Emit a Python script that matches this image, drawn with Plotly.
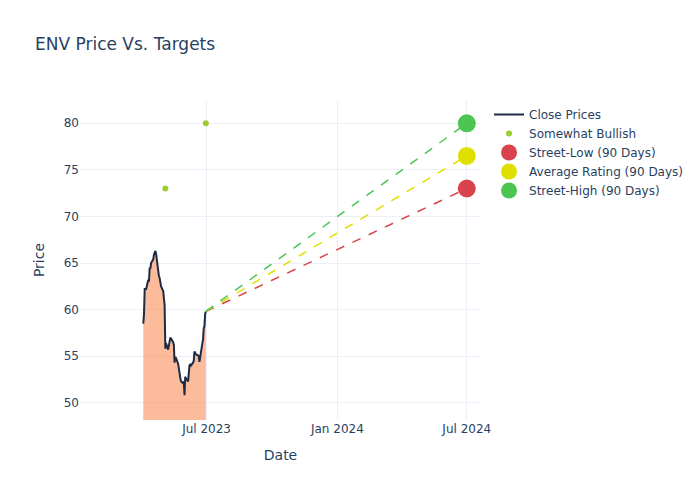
import pandas as pd
import plotly.graph_objects as go

# Close prices (business days 2023-04-03 .. 2023-06-30)
close_dates = pd.bdate_range("2023-04-03", "2023-06-30")
close_prices = [
    58.5, 59.5, 62.2, 62.2, 62.2, 63.2, 63.0, 64.5, 64.4, 65.0,
    65.4, 65.9, 66.2, 66.3, 66.0, 63.8, 63.6, 63.4, 63.0, 62.5,
    62.0, 61.2, 60.5, 55.8, 56.4, 55.7, 56.3, 56.6, 57.0, 56.9,
    56.5, 56.2, 54.3, 54.9, 54.8, 54.2, 53.5, 53.1, 52.7, 52.3,
    52.1, 52.3, 50.8, 52.8, 52.6, 52.3, 53.7, 54.0, 54.1, 54.0,
    54.3, 54.5, 55.5, 55.3, 55.2, 55.1, 55.0, 54.4, 54.8, 55.2,
    56.8, 58.0, 58.2, 59.5, 59.8,
]

# Analyst ratings
rating_dates = ["2023-05-04", "2023-06-30"]
rating_targets = [73, 80]

# Targets (90 days)
target_date = "2024-07-01"
street_low = 73
average_rating = 76.5
street_high = 80

last_date = close_dates[-1]
last_price = close_prices[-1]

fig = go.Figure()

fig.add_trace(go.Scatter(
    x=close_dates, y=close_prices, mode="none", showlegend=False,
    fill="tozeroy", fillcolor="rgba(250,150,100,0.65)", hoverinfo="skip",
))
fig.add_trace(go.Scatter(
    x=close_dates, y=close_prices, mode="lines", name="Close Prices",
    line=dict(color="#1f2a44", width=2),
))

fig.add_trace(go.Scatter(
    x=rating_dates, y=rating_targets, mode="markers", name="Somewhat Bullish",
    marker=dict(color="#9acd32", size=6),
))

for name, val, color in [
    ("Street-Low (90 Days)", street_low, "#d9444c"),
    ("Average Rating (90 Days)", average_rating, "#e0e000"),
    ("Street-High (90 Days)", street_high, "#4cc552"),
]:
    fig.add_trace(go.Scatter(
        x=[last_date, target_date], y=[last_price, val], mode="lines",
        line=dict(color=color, dash="dash", width=1.5), showlegend=False,
        hoverinfo="skip",
    ))
    fig.add_trace(go.Scatter(
        x=[target_date], y=[val], mode="markers", name=name,
        marker=dict(color=color, size=18),
    ))

fig.update_layout(
    template="plotly_white",
    width=700, height=500,
    font=dict(family="DejaVu Sans"),
    title=dict(text="ENV Price Vs. Targets"),
    xaxis=dict(title="Date", range=["2023-01-04", "2024-07-21"],
               dtick="M6", tickformat="%b %Y", tick0="2023-01-01"),
    yaxis=dict(title="Price", range=[48.15, 82.5]),
)

fig.write_html("out.html", config={"displayModeBar": False},
               post_script="document.body.style.margin='0px';")
